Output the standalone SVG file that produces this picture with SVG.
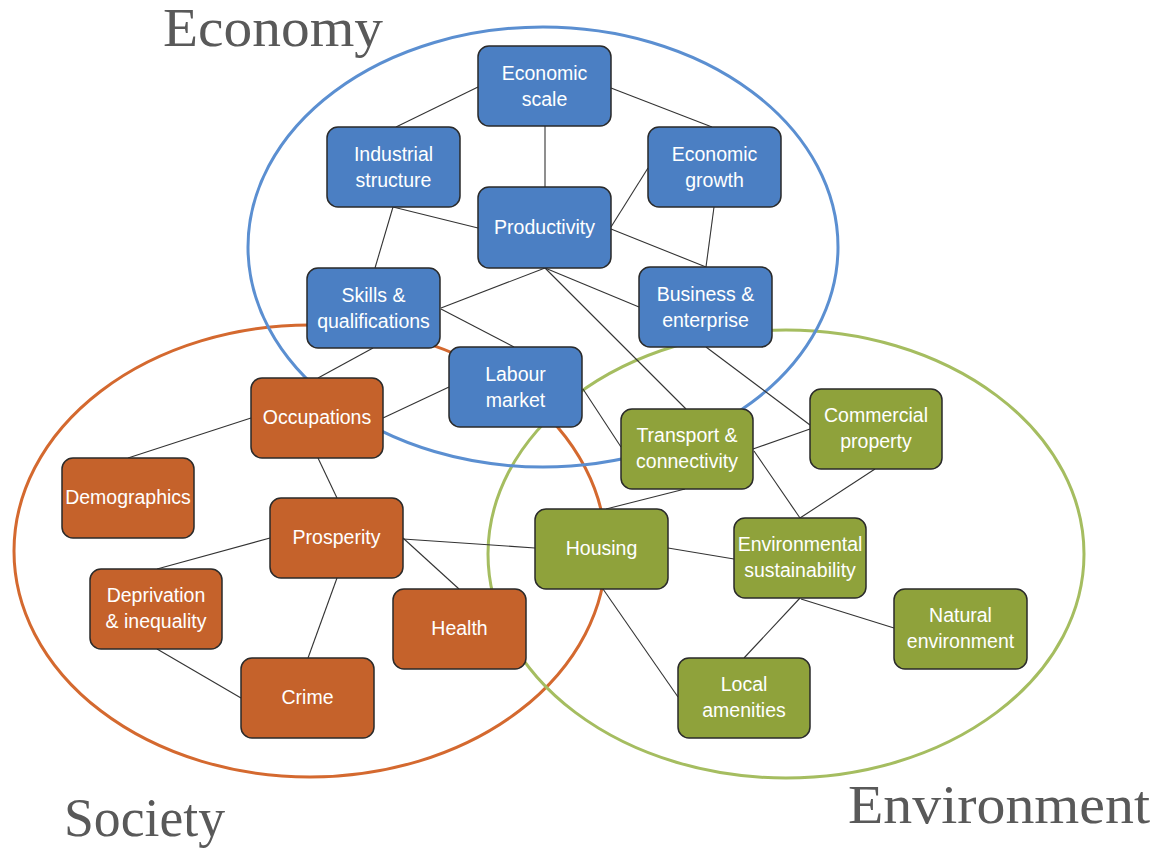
<svg xmlns="http://www.w3.org/2000/svg" width="1155" height="850" viewBox="0 0 1155 850">
<style>
.box{stroke:#2a2a2a;stroke-width:1.5}
.eco{fill:#4b7fc3}
.soc{fill:#c5622b}
.env{fill:#8fa23b}
.lbl{font-family:"Liberation Sans",Arial,sans-serif;font-size:19.5px;fill:#ffffff;text-anchor:middle}
.ttl{font-family:"Liberation Serif","Times New Roman",serif;font-size:54px;fill:#595959}
.ell{fill:none;stroke-width:3}
#connectors line{stroke:#333;stroke-width:1.1}
</style>
<rect width="1155" height="850" fill="#ffffff"/>
<g id="circles">
<ellipse class="ell" cx="310" cy="551" rx="296" ry="226" stroke="#d4692f"/>
<ellipse class="ell" cx="786" cy="554" rx="298" ry="224" stroke="#a5bd60"/>
<ellipse class="ell" cx="543" cy="247" rx="295" ry="220" stroke="#5b8fd1"/>
</g>
<g id="titles">
<text class="ttl" x="163" y="46" textLength="220" lengthAdjust="spacingAndGlyphs">Economy</text>
<text class="ttl" x="64" y="836" textLength="161" lengthAdjust="spacingAndGlyphs">Society</text>
<text class="ttl" x="848" y="823" textLength="302" lengthAdjust="spacingAndGlyphs">Environment</text>
</g>
<g id="connectors">
<line x1="478" y1="87" x2="396" y2="127"/>
<line x1="611" y1="88" x2="712" y2="127"/>
<line x1="545" y1="126" x2="545" y2="187"/>
<line x1="393" y1="207" x2="478" y2="228"/>
<line x1="393" y1="207" x2="375" y2="268"/>
<line x1="611" y1="227" x2="648" y2="168"/>
<line x1="611" y1="229" x2="706" y2="267"/>
<line x1="714" y1="207" x2="706" y2="267"/>
<line x1="545" y1="268" x2="441" y2="308"/>
<line x1="545" y1="268" x2="639" y2="307"/>
<line x1="545" y1="268" x2="686" y2="409"/>
<line x1="441" y1="309" x2="514" y2="347"/>
<line x1="373" y1="348" x2="318" y2="378"/>
<line x1="449" y1="387" x2="383" y2="418"/>
<line x1="583" y1="389" x2="621" y2="447"/>
<line x1="706" y1="347" x2="810" y2="425"/>
<line x1="251" y1="418" x2="128" y2="458"/>
<line x1="318" y1="458" x2="337" y2="498"/>
<line x1="270" y1="538" x2="157" y2="569"/>
<line x1="337" y1="578" x2="308" y2="658"/>
<line x1="403" y1="538" x2="459" y2="589"/>
<line x1="403" y1="539" x2="535" y2="548"/>
<line x1="157" y1="649" x2="241" y2="698"/>
<line x1="685" y1="489" x2="606" y2="509"/>
<line x1="753" y1="449" x2="810" y2="429"/>
<line x1="754" y1="451" x2="800" y2="518"/>
<line x1="875" y1="469" x2="800" y2="518"/>
<line x1="668" y1="548" x2="734" y2="559"/>
<line x1="603" y1="589" x2="678" y2="697"/>
<line x1="800" y1="598" x2="744" y2="658"/>
<line x1="801" y1="599" x2="894" y2="628"/>
</g>
<g id="economic-scale"><rect class="box eco" x="478" y="46" width="133" height="80" rx="11"/><text class="lbl" x="544.5" y="80">Economic</text><text class="lbl" x="544.5" y="106">scale</text></g>
<g id="industrial-structure"><rect class="box eco" x="327" y="127" width="133" height="80" rx="11"/><text class="lbl" x="393.5" y="161">Industrial</text><text class="lbl" x="393.5" y="187">structure</text></g>
<g id="economic-growth"><rect class="box eco" x="648" y="127" width="133" height="80" rx="11"/><text class="lbl" x="714.5" y="161">Economic</text><text class="lbl" x="714.5" y="187">growth</text></g>
<g id="productivity"><rect class="box eco" x="478" y="187" width="133" height="81" rx="11"/><text class="lbl" x="544.5" y="234">Productivity</text></g>
<g id="skills"><rect class="box eco" x="307" y="268" width="133" height="80" rx="11"/><text class="lbl" x="373.5" y="302">Skills &amp;</text><text class="lbl" x="373.5" y="328">qualifications</text></g>
<g id="business"><rect class="box eco" x="639" y="267" width="133" height="80" rx="11"/><text class="lbl" x="705.5" y="301">Business &amp;</text><text class="lbl" x="705.5" y="327">enterprise</text></g>
<g id="labour-market"><rect class="box eco" x="449" y="347" width="133" height="80" rx="11"/><text class="lbl" x="515.5" y="381">Labour</text><text class="lbl" x="515.5" y="407">market</text></g>
<g id="occupations"><rect class="box soc" x="251" y="378" width="132" height="80" rx="11"/><text class="lbl" x="317" y="424">Occupations</text></g>
<g id="demographics"><rect class="box soc" x="62" y="458" width="132" height="80" rx="11"/><text class="lbl" x="128" y="504">Demographics</text></g>
<g id="prosperity"><rect class="box soc" x="270" y="498" width="133" height="80" rx="11"/><text class="lbl" x="336.5" y="544">Prosperity</text></g>
<g id="deprivation"><rect class="box soc" x="90" y="569" width="132" height="80" rx="11"/><text class="lbl" x="156" y="602">Deprivation</text><text class="lbl" x="156" y="628">&amp; inequality</text></g>
<g id="health"><rect class="box soc" x="393" y="589" width="133" height="80" rx="11"/><text class="lbl" x="459.5" y="635">Health</text></g>
<g id="crime"><rect class="box soc" x="241" y="658" width="133" height="80" rx="11"/><text class="lbl" x="307.5" y="704">Crime</text></g>
<g id="transport"><rect class="box env" x="621" y="409" width="132" height="80" rx="11"/><text class="lbl" x="687" y="442">Transport &amp;</text><text class="lbl" x="687" y="468">connectivity</text></g>
<g id="commercial-property"><rect class="box env" x="810" y="389" width="132" height="80" rx="11"/><text class="lbl" x="876" y="422">Commercial</text><text class="lbl" x="876" y="448">property</text></g>
<g id="housing"><rect class="box env" x="535" y="509" width="133" height="80" rx="11"/><text class="lbl" x="601.5" y="555">Housing</text></g>
<g id="environmental-sustainability"><rect class="box env" x="734" y="518" width="132" height="80" rx="11"/><text class="lbl" x="800" y="551">Environmental</text><text class="lbl" x="800" y="577">sustainability</text></g>
<g id="natural-environment"><rect class="box env" x="894" y="589" width="133" height="80" rx="11"/><text class="lbl" x="960.5" y="622">Natural</text><text class="lbl" x="960.5" y="648">environment</text></g>
<g id="local-amenities"><rect class="box env" x="678" y="658" width="132" height="80" rx="11"/><text class="lbl" x="744" y="691">Local</text><text class="lbl" x="744" y="717">amenities</text></g>
</svg>
